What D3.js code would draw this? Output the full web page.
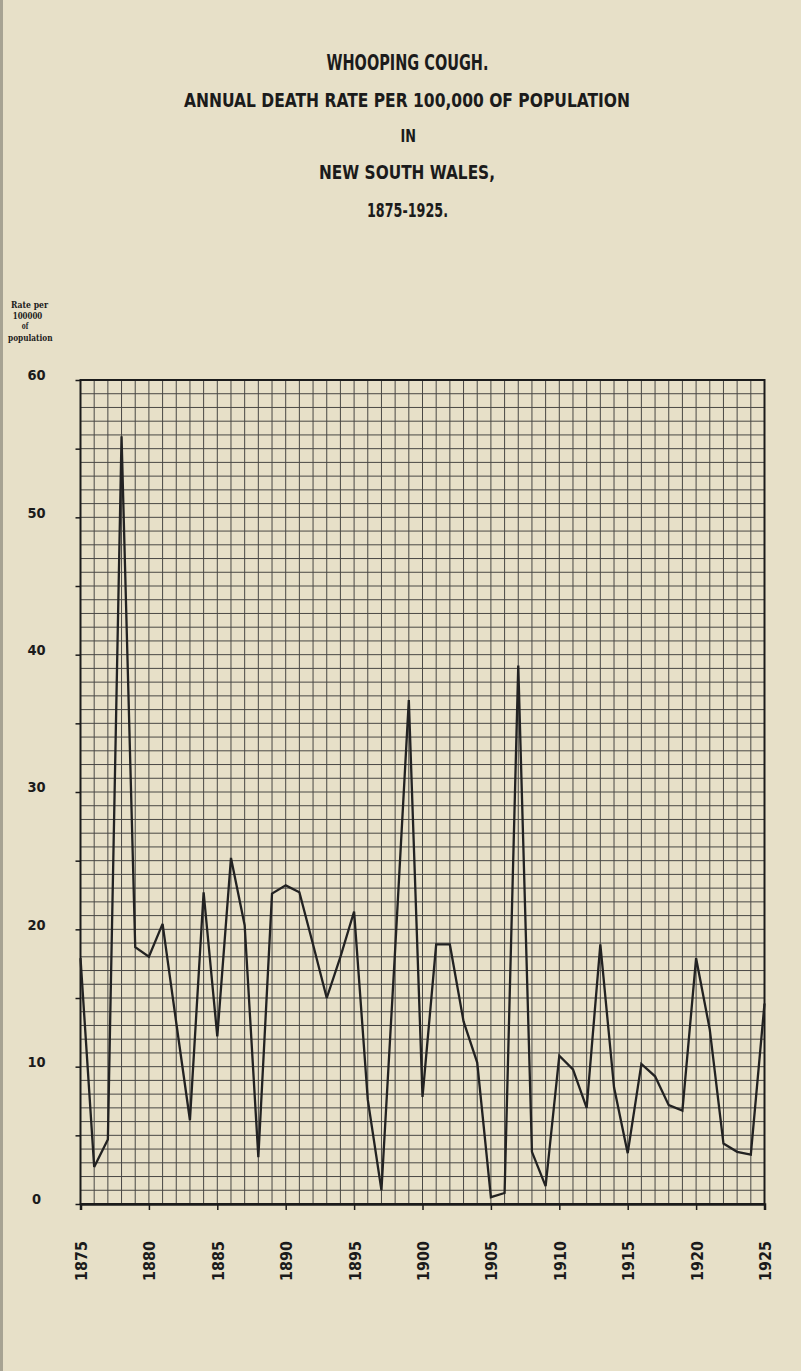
<!DOCTYPE html>
<html>
<head>
<meta charset="utf-8">
<script src="https://cdn.jsdelivr.net/npm/d3@7/dist/d3.min.js"></script>
<style>
  html, body { margin: 0; padding: 0; background: #e7e0c8; }
  svg { display: block; }
</style>
</head>
<body>
<svg id="chart" width="801" height="1371"></svg>
<script>
// ---- data ----
const years = d3.range(1875, 1926);
const rates = [
  17.9, 2.7, 4.7, 55.9, 18.7, 18.0, 20.4, 13.2, 6.1, 22.7,
  12.2, 25.2, 20.3, 3.4, 22.6, 23.2, 22.7, 18.9, 15.0, 18.0,
  21.3, 7.6, 1.0, 18.5, 36.7, 7.8, 18.9, 18.9, 13.3, 10.3,
  0.5, 0.8, 39.2, 3.8, 1.3, 10.8, 9.8, 7.0, 18.9, 8.5,
  3.7, 10.2, 9.3, 7.2, 6.8, 17.9, 12.7, 4.4, 3.8, 3.6,
  14.6
];
const yearTicks = [1875, 1880, 1885, 1890, 1895, 1900, 1905, 1910, 1915, 1920, 1925];
const rateTicks = [0, 5, 10, 15, 20, 25, 30, 35, 40, 45, 50, 55, 60];
const rateLabels = [0, 10, 20, 30, 40, 50, 60];
const titleLines = [
  "WHOOPING COUGH.",
  "ANNUAL DEATH RATE PER 100,000 OF POPULATION",
  "IN",
  "NEW SOUTH WALES,",
  "1875-1925."
];
const unitLines = ["Rate per", "100000", "of", "population"];

// ---- layout ----
const svg = d3.select("#chart");
const x = d3.scaleLinear().domain([1875, 1925]).range([80.5, 764.5]);
const y = d3.scaleLinear().domain([0, 60]).range([1204, 380]);

const ink = "#1b1b1b";
const condensed = "'Liberation Sans Narrow', 'DejaVu Sans Condensed', 'Liberation Sans', sans-serif";

// paper background + scan edge
svg.append("rect").attr("width", 801).attr("height", 1371).attr("fill", "#e7e0c8");
svg.append("rect").attr("x", 0).attr("y", 0).attr("width", 3).attr("height", 1371).attr("fill", "#7d7a70").attr("opacity", 0.6);

// ---- title ----
const titleSpecs = [
  {x0: 326.5, x1: 488.5, base: 70, size: 20.5},
  {x0: 184, x1: 630, base: 107, size: 19},
  {x0: 400.5, x1: 416, base: 142, size: 18},
  {x0: 319, x1: 495, base: 179, size: 19},
  {x0: 367, x1: 448, base: 217, size: 19.5}
];
svg.append("g").selectAll("text").data(titleLines).join("text")
  .attr("x", (d, i) => titleSpecs[i].x0)
  .attr("y", (d, i) => titleSpecs[i].base)
  .attr("textLength", (d, i) => titleSpecs[i].x1 - titleSpecs[i].x0)
  .attr("lengthAdjust", "spacingAndGlyphs")
  .attr("font-family", condensed)
  .attr("font-weight", "bold")
  .attr("font-size", (d, i) => titleSpecs[i].size)
  .attr("fill", ink)
  .text(d => d);

// ---- unit label ----
const unitSpecs = [
  {cx: 29.5, w: 37, base: 307.5},
  {cx: 27.5, w: 29.5, base: 318.5},
  {cx: 25, w: 6.5, base: 328.5},
  {cx: 30.3, w: 44.5, base: 340.5}
];
svg.append("g").selectAll("text").data(unitLines).join("text")
  .attr("x", (d, i) => unitSpecs[i].cx - unitSpecs[i].w / 2)
  .attr("y", (d, i) => unitSpecs[i].base)
  .attr("textLength", (d, i) => unitSpecs[i].w)
  .attr("lengthAdjust", "spacingAndGlyphs")
  .attr("font-family", "'DejaVu Serif', 'Liberation Serif', serif")
  .attr("font-weight", "bold")
  .attr("font-size", 9.5)
  .attr("fill", ink)
  .text(d => d);

// ---- grid ----
const grid = svg.append("g").attr("stroke", "#2e2e2e").attr("stroke-width", 1).attr("opacity", 0.85);
grid.selectAll("line.v").data(years).join("line").attr("class", "v")
  .attr("x1", d => x(d)).attr("x2", d => x(d))
  .attr("y1", y(60)).attr("y2", y(0));
grid.selectAll("line.h").data(d3.range(0, 61)).join("line").attr("class", "h")
  .attr("x1", x(1875)).attr("x2", x(1925))
  .attr("y1", d => y(d)).attr("y2", d => y(d));

// frame
svg.append("rect")
  .attr("x", x(1875)).attr("y", y(60))
  .attr("width", x(1925) - x(1875)).attr("height", y(0) - y(60))
  .attr("fill", "none").attr("stroke", ink).attr("stroke-width", 2);

// ---- axes ----
const xAxis = d3.axisBottom(x).tickValues(yearTicks).tickSize(6).tickFormat(d3.format("d"));
const gx = svg.append("g").attr("transform", `translate(0,${y(0)})`).call(xAxis);
gx.select(".domain").attr("stroke", ink).attr("stroke-width", 2.5);
gx.selectAll(".tick line").attr("stroke", ink).attr("stroke-width", 1.5);
gx.selectAll(".tick text")
  .attr("transform", "rotate(-90)")
  .attr("x", -57).attr("y", 0).attr("dy", "0.36em")
  .attr("text-anchor", "middle")
  .attr("textLength", 40)
  .attr("lengthAdjust", "spacingAndGlyphs")
  .attr("font-family", condensed)
  .attr("font-weight", "bold")
  .attr("font-size", 16.5)
  .attr("fill", ink);

const yAxis = d3.axisLeft(y).tickValues(rateTicks).tickSize(5)
  .tickFormat(d => rateLabels.includes(d) ? d : "");
const gy = svg.append("g").attr("transform", `translate(${x(1875)},0)`).call(yAxis);
gy.select(".domain").attr("stroke", "none");
gy.selectAll(".tick line").attr("stroke", ink).attr("stroke-width", 1.5);
gy.selectAll(".tick text")
  .attr("x", -44).attr("dy", "-0.02em")
  .attr("text-anchor", "middle")
  .attr("font-family", condensed)
  .attr("font-weight", "bold")
  .attr("font-size", 14.5)
  .attr("fill", ink);

// ---- data line ----
const line = d3.line().x((d, i) => x(years[i])).y(d => y(d));
svg.append("path").datum(rates)
  .attr("d", line)
  .attr("fill", "none")
  .attr("stroke", "#222")
  .attr("stroke-width", 2.3)
  .attr("stroke-linejoin", "miter")
  .attr("stroke-miterlimit", 3);
</script>
</body>
</html>
